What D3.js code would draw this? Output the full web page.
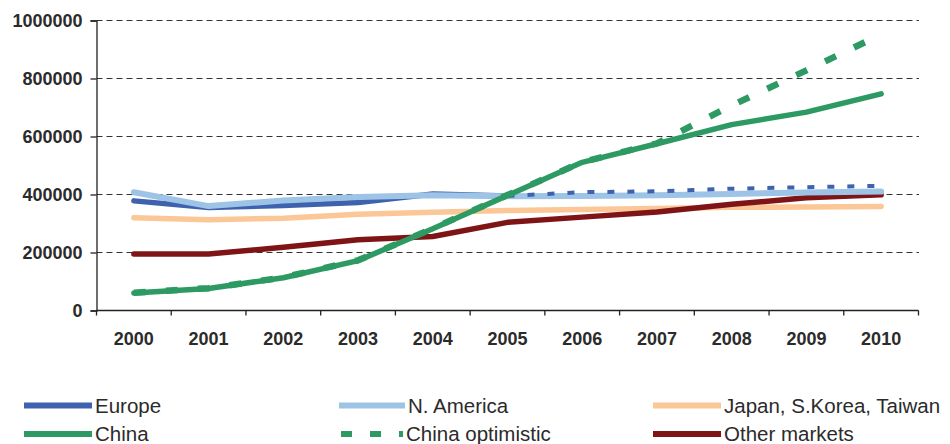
<!DOCTYPE html>
<html>
<head>
<meta charset="utf-8">
<script src="https://cdn.jsdelivr.net/npm/d3@7"></script>
<style>
  body { margin: 0; background: #fff; }
  svg text { font-family: "Liberation Sans", Arial, sans-serif; fill: #2b2b2b; }
</style>
</head>
<body>
<svg id="chart" width="950" height="444"></svg>
<script>
// Chart data
var years = [2000, 2001, 2002, 2003, 2004, 2005, 2006, 2007, 2008, 2009, 2010];
var yTicks = [0, 200000, 400000, 600000, 800000, 1000000];

var europe = [378000, 355000, 362000, 372000, 402000, 395000];
var europeForecast = [395000, 408000, 411000, 420000, 425000, 430000];
var nAmerica = [408000, 360000, 379000, 391000, 397000, 394000, 395000, 397000, 402000, 407000, 410000];
var japan = [320000, 313000, 318000, 332000, 339000, 345000, 348000, 352000, 356000, 357000, 359000];
var china = [60000, 76000, 113000, 172000, 282000, 397000, 511000, 575000, 641000, 684000, 747000];
var chinaOpt = [61000, 77000, 114000, 173000, 283000, 398000, 512000, 576000, 707000, 828000, 952000];
var otherMarkets = [195000, 195000, 218000, 244000, 255000, 304000, 322000, 340000, 366000, 389000, 399000];

var svg = d3.select('#chart');

var x = d3.scaleBand().domain(years).range([96.5, 918.5]);
var y = d3.scaleLinear().domain([0, 1000000]).range([310.5, 20.5]);

function px(yr) { return x(yr) + x.bandwidth() / 2; }

// Gridlines
svg.append('g')
	.selectAll('line')
	.data(yTicks.slice(1))
	.join('line')
	.attr('x1', 96.5).attr('x2', 919)
	.attr('y1', function(d) { return y(d); })
	.attr('y2', function(d) { return y(d); })
	.attr('stroke', '#333')
	.attr('stroke-width', 1)
	.attr('stroke-dasharray', '6,4');

// Y axis
var yAxis = svg.append('g')
	.attr('transform', 'translate(96.5,0)')
	.call(d3.axisLeft(y).tickValues(yTicks).tickSize(6).tickFormat(d3.format('d')));
yAxis.select('.domain').attr('stroke', '#222').attr('stroke-width', 1.3);
yAxis.selectAll('.tick line').attr('stroke', '#222').attr('stroke-width', 1.3);
yAxis.selectAll('text')
	.attr('x', -14)
	.attr('dy', '0.36em')
	.style('font-size', '18px')
	.style('font-weight', 'bold');

// X axis
var xAxis = svg.append('g')
	.attr('transform', 'translate(0,310.5)');
xAxis.append('line')
	.attr('x1', 96.5).attr('x2', 918.5)
	.attr('stroke', '#222').attr('stroke-width', 1.3);
xAxis.selectAll('.xt')
	.data(years.map(function(d) { return x(d); }).concat([918.5]))
	.join('line')
	.attr('x1', function(d) { return d; })
	.attr('x2', function(d) { return d; })
	.attr('y1', 0).attr('y2', 5)
	.attr('stroke', '#222').attr('stroke-width', 1.3);
xAxis.selectAll('text')
	.data(years)
	.join('text')
	.attr('x', function(d) { return px(d); })
	.attr('y', 34)
	.attr('text-anchor', 'middle')
	.style('font-size', '18px')
	.style('font-weight', 'bold')
	.text(function(d) { return d; });

// Lines
var line = d3.line()
	.x(function(d) { return px(d[0]); })
	.y(function(d) { return y(d[1]); });

function pairs(values, start) {
	return values.map(function(v, i) { return [years[i + start], v]; });
}

// drawing order: optimistic China sits under the solid China line
var series = [
	{ name: 'Japan, S.Korea, Taiwan', values: pairs(japan, 0), color: '#fbc796', width: 5.5, dash: null },
	{ name: 'Other markets', values: pairs(otherMarkets, 0), color: '#7f1416', width: 5.5, dash: null },
	{ name: 'Europe', values: pairs(europe, 0), color: '#3f62ae', width: 5.5, dash: null },
	{ name: 'N. America', values: pairs(nAmerica, 0), color: '#9dc3e6', width: 6, dash: null },
	{ name: 'Europe forecast', values: pairs(europeForecast, 5), color: '#3f62ae', width: 4, dash: '7,13' },
	{ name: 'China optimistic', values: pairs(chinaOpt, 0), color: '#2e9a63', width: 6.5, dash: '12,20' },
	{ name: 'China', values: pairs(china, 0), color: '#2e9a63', width: 5.5, dash: null }
];

svg.append('g')
	.selectAll('path')
	.data(series)
	.join('path')
	.attr('d', function(d) { return line(d.values); })
	.attr('fill', 'none')
	.attr('stroke', function(d) { return d.color; })
	.attr('stroke-width', function(d) { return d.width; })
	.attr('stroke-linejoin', 'round')
	.attr('stroke-linecap', function(d) { return d.dash ? 'butt' : 'round'; })
	.attr('stroke-dasharray', function(d) { return d.dash; });

// Legend
var legendItems = [
	{ name: 'Europe', color: '#3f62ae', x1: 24, x2: 92, row: 0, dash: null },
	{ name: 'N. America', color: '#9dc3e6', x1: 339, x2: 405, row: 0, dash: null },
	{ name: 'Japan, S.Korea, Taiwan', color: '#fbc796', x1: 653, x2: 721, row: 0, dash: null },
	{ name: 'China', color: '#2e9a63', x1: 24, x2: 92, row: 1, dash: null },
	{ name: 'China optimistic', color: '#2e9a63', x1: 341, x2: 403, row: 1, dash: '11,18' },
	{ name: 'Other markets', color: '#7f1416', x1: 653, x2: 721, row: 1, dash: null }
];

var legend = svg.append('g').selectAll('g')
	.data(legendItems)
	.join('g')
	.attr('transform', function(d) { return 'translate(0,' + (405.5 + d.row * 28.5) + ')'; });

legend.append('line')
	.attr('x1', function(d) { return d.x1; })
	.attr('x2', function(d) { return d.x2; })
	.attr('stroke', function(d) { return d.color; })
	.attr('stroke-width', 6)
	.attr('stroke-dasharray', function(d) { return d.dash; });

legend.append('text')
	.attr('x', function(d) { return d.x2 + 3; })
	.attr('y', 7)
	.style('font-size', '20.5px')
	.text(function(d) { return d.name; });
</script>
</body>
</html>
